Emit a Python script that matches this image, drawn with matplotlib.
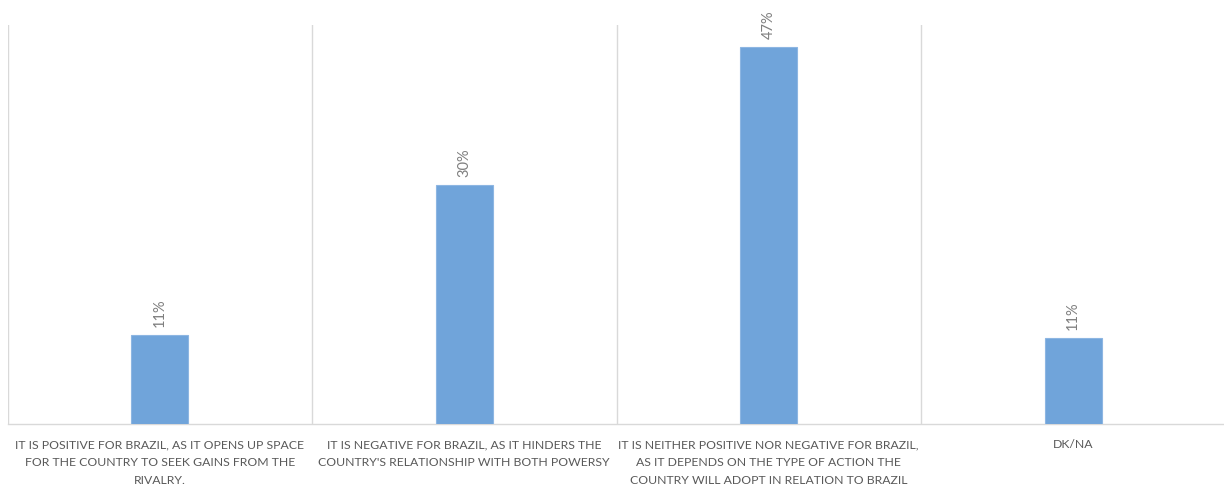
import numpy as np
import matplotlib
matplotlib.use("Agg")
import matplotlib.pyplot as plt

categories = [
    "IT IS POSITIVE FOR BRAZIL, AS IT OPENS UP SPACE\nFOR THE COUNTRY TO SEEK GAINS FROM THE\nRIVALRY.",
    "IT IS NEGATIVE FOR BRAZIL, AS IT HINDERS THE\nCOUNTRY'S RELATIONSHIP WITH BOTH POWERSY",
    "IT IS NEITHER POSITIVE NOR NEGATIVE FOR BRAZIL,\nAS IT DEPENDS ON THE TYPE OF ACTION THE\nCOUNTRY WILL ADOPT IN RELATION TO BRAZIL",
    "DK/NA",
]
values = [11.1, 29.8, 47.0, 10.7]
value_labels = ["11%", "30%", "47%", "11%"]

plt.rcParams['font.family'] = ['Lato', 'DejaVu Sans']

fig = plt.figure(figsize=(12.24, 4.86), dpi=100)
ax = fig.add_axes([7.5 / 1224, 62 / 486, 1218 / 1224, 399 / 486])

x = np.arange(len(values))
bars = ax.bar(x, values, width=0.187, color='#70A4DA', edgecolor='#8DB6E2',
              linewidth=0.8, zorder=3)

for b, lab in zip(bars, value_labels):
    ax.annotate(lab, (b.get_x() + b.get_width() / 2, b.get_height()),
                xytext=(0, 6), textcoords='offset points', rotation=90,
                ha='center', va='bottom', fontsize=10.5, color='#7F7F7F')

ax.set_xlim(-0.5, 3.5)
ax.set_ylim(0, 49.75)
ax.set_xticks(x)
ax.set_xticklabels(categories, fontsize=8.8, color='#595959', linespacing=1.75)
ax.set_xticks(np.arange(-0.5, 3.5), minor=True)
ax.tick_params(axis='x', which='both', length=0, pad=11)
ax.set_yticks([])
ax.grid(which='minor', axis='x', color='#D9D9D9', linewidth=1, zorder=0)
for s in ['top', 'right', 'left']:
    ax.spines[s].set_visible(False)
ax.spines['bottom'].set_color('#D9D9D9')
ax.spines['bottom'].set_linewidth(1)

fig.savefig("out.png", dpi=100)
